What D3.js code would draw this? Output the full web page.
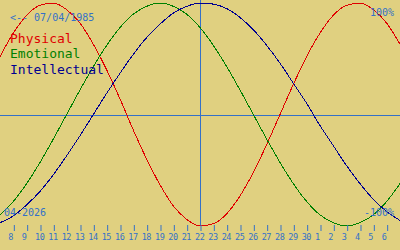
<!DOCTYPE html>
<html>
<head>
<meta charset="utf-8">
<script src="https://cdn.jsdelivr.net/npm/d3@7"></script>
<style>
	body { margin: 0; background: #e0d080; }
	svg { display: block; }
	text { font-family: "DejaVu Sans Mono", monospace; }
</style>
</head>
<body>
<div class="bio-chart"></div>
<script>
// days shown, relative to the selected date (22 Apr 2026)
var OFFSETS = [-15, -14, -13, -12, -11, -10, -9, -8, -7, -6, -5, -4, -3, -2, -1, 0,
	1, 2, 3, 4, 5, 6, 7, 8, 9, 10, 11, 12, 13, 14, 15];

// day-of-month tick labels (8 Apr .. 6 May)
var TICK_OFFSETS = [-14, -13, -12, -11, -10, -9, -8, -7, -6, -5, -4, -3, -2, -1, 0,
	1, 2, 3, 4, 5, 6, 7, 8, 9, 10, 11, 12, 13, 14];
var TICK_LABELS = ["8", "9", "10", "11", "12", "13", "14", "15", "16", "17", "18", "19", "20", "21", "22",
	"23", "24", "25", "26", "27", "28", "29", "30", "1", "2", "3", "4", "5", "6"];

var PHYSICAL = [0.52, 0.73, 0.89, 0.98, 1.00, 0.94, 0.82, 0.63, 0.40, 0.14, -0.14, -0.40, -0.63, -0.82, -0.94, -1.00,
	-0.98, -0.89, -0.73, -0.52, -0.27, 0.00, 0.27, 0.52, 0.73, 0.89, 0.98, 1.00, 0.94, 0.82, 0.63];
var EMOTIONAL = [-0.90, -0.78, -0.62, -0.43, -0.22, 0.00, 0.22, 0.43, 0.62, 0.78, 0.90, 0.97, 1.00, 0.97, 0.90, 0.78,
	0.62, 0.43, 0.22, 0.00, -0.22, -0.43, -0.62, -0.78, -0.90, -0.97, -1.00, -0.97, -0.90, -0.78, -0.62];
var INTELLECTUAL = [-0.97, -0.91, -0.81, -0.69, -0.54, -0.37, -0.19, 0.00, 0.19, 0.37, 0.54, 0.69, 0.81, 0.91, 0.97, 1.00,
	0.99, 0.95, 0.87, 0.76, 0.62, 0.46, 0.28, 0.10, -0.10, -0.28, -0.46, -0.62, -0.76, -0.87, -0.95];

var SERIES = [
	{ name : "Physical", values : PHYSICAL, color : "#e00000" },
	{ name : "Emotional", values : EMOTIONAL, color : "#008000" },
	{ name : "Intellectual", values : INTELLECTUAL, color : "#000090" }
];

var BIRTH_LABEL = "<-- 07/04/1985",
	MONTH_LABEL = "04-2026",
	TOP_LABEL = "100%",
	BOTTOM_LABEL = "-100%";

var width = 400, height = 250;
var axisBlue = "#3470c8";

var svg = d3.select(".bio-chart").append("svg")
	.attr("width", width)
	.attr("height", height);

svg.append("rect")
	.attr("width", width)
	.attr("height", height)
	.attr("fill", "#e0d080");

var xScale = d3.scaleLinear().domain([-15, 15]).range([0, width]);
var yScale = d3.scaleLinear().domain([-1, 1]).range([226, 3]);

// zero line and "today" line
svg.append("line")
	.attr("x1", 0).attr("x2", width)
	.attr("y1", Math.round(yScale(0)) + 0.5).attr("y2", Math.round(yScale(0)) + 0.5)
	.attr("stroke", axisBlue);

svg.append("line")
	.attr("x1", xScale(0) + 0.5).attr("x2", xScale(0) + 0.5)
	.attr("y1", 0).attr("y2", 226)
	.attr("stroke", axisBlue);

// curves
var line = d3.line()
	.x(function ( d, i ) { return xScale(OFFSETS[i]); })
	.y(function ( d ) { return yScale(d); })
	.curve(d3.curveMonotoneX);

svg.selectAll(".curve")
	.data(SERIES)
	.enter()
	.append("path")
	.attr("class", "curve")
	.attr("d", function ( d ) { return line(d.values); })
	.attr("fill", "none")
	.attr("stroke", function ( d ) { return d.color; })
	.attr("stroke-width", 1)
	.attr("shape-rendering", "crispEdges");

// day ticks
var xAxis = d3.axisBottom(xScale)
	.tickValues(TICK_OFFSETS)
	.tickSize(6)
	.tickFormat("");

var axisG = svg.append("g")
	.attr("transform", "translate(0.5,225)")
	.call(xAxis);
axisG.select(".domain").remove();
axisG.selectAll(".tick line").attr("stroke", axisBlue);

svg.selectAll(".day-label")
	.data(TICK_LABELS)
	.enter()
	.append("text")
	.attr("class", "day-label")
	.attr("x", function ( d, i ) { return xScale(TICK_OFFSETS[i]) - 5; })
	.attr("y", 240)
	.attr("font-size", 8.5)
	.attr("letter-spacing", -0.4)
	.attr("fill", axisBlue)
	.text(function ( d ) { return d; });

// texts
svg.append("text").attr("x", 10).attr("y", 20.5)
	.attr("font-size", 10).attr("fill", axisBlue).text(BIRTH_LABEL);
svg.append("text").attr("x", 394).attr("y", 16).attr("text-anchor", "end")
	.attr("font-size", 10).attr("fill", axisBlue).text(TOP_LABEL);
svg.append("text").attr("x", 4).attr("y", 216)
	.attr("font-size", 10).attr("fill", axisBlue).text(MONTH_LABEL);
svg.append("text").attr("x", 394).attr("y", 216).attr("text-anchor", "end")
	.attr("font-size", 10).attr("fill", axisBlue).text(BOTTOM_LABEL);

svg.selectAll(".legend")
	.data(SERIES)
	.enter()
	.append("text")
	.attr("class", "legend")
	.attr("x", 10)
	.attr("y", function ( d, i ) { return 42.5 + i * 15.5; })
	.attr("font-size", 13)
	.attr("fill", function ( d ) { return d.color; })
	.text(function ( d ) { return d.name; });
</script>
</body>
</html>
